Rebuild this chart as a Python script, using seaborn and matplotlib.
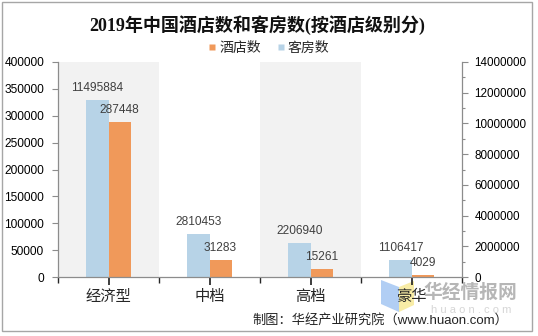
import matplotlib
matplotlib.use('Agg')
import matplotlib.pyplot as plt
import matplotlib.ticker as mticker
import seaborn as sns
import pandas as pd
from matplotlib.patches import Rectangle, Polygon
from matplotlib.lines import Line2D

# ---- data ----
categories = ['经济型', '中档', '高档', '豪华']
hotels = [287448, 31283, 15261, 4029]
rooms = [11495884, 2810453, 2206940, 1106417]
series_names = ['酒店数', '客房数']
left_ticks = [0, 50000, 100000, 150000, 200000, 250000, 300000, 350000, 400000]
right_ticks = [0, 2000000, 4000000, 6000000, 8000000, 10000000, 12000000, 14000000]
shaded = ['经济型', '高档']
title = '2019年中国酒店数和客房数(按酒店级别分)'
source = '制图：华经产业研究院（www.huaon.com）'

sns.set_theme(style='ticks')
plt.rcParams['font.family'] = ['Liberation Sans', 'Noto Sans CJK SC', 'DejaVu Sans']

W, H = 538, 336
fig = plt.figure(figsize=(W / 100, H / 100), dpi=100)
fig.patch.set_facecolor('white')

axr = fig.add_axes([58 / W, 1 - 277 / H, 404 / W, 215 / H])   # rooms (right axis), lower layer
ax = axr.twinx()                                              # hotels (left axis), upper layer
ax.yaxis.tick_left()
axr.yaxis.tick_right()
ax.set_zorder(axr.get_zorder() + 1)
ax.patch.set_visible(False)

palette = {'酒店数': '#f0995a', '客房数': '#b7d3e7'}
hue_order = ['客房数', '酒店数']

# each axis gets both hue levels so that seaborn dodges the bars side by side;
# the series that belongs to the other axis is a zero-height placeholder
df_r = pd.DataFrame({'级别': categories * 2,
                     '系列': [series_names[1]] * len(categories) + [series_names[0]] * len(categories),
                     '数量': rooms + [0] * len(categories)})
df_h = pd.DataFrame({'级别': categories * 2,
                     '系列': [series_names[1]] * len(categories) + [series_names[0]] * len(categories),
                     '数量': [0] * len(categories) + hotels})

# shaded bands
for c in shaded:
    i = categories.index(c)
    axr.axvspan(i - 0.5, i + 0.5, color='#f2f2f2', zorder=0, lw=0)

sns.barplot(data=df_r, x='级别', y='数量', hue='系列', hue_order=hue_order,
            order=categories, palette=palette, width=0.44, saturation=1,
            errorbar=None, legend=False, ax=axr, zorder=2, linewidth=0)
sns.barplot(data=df_h, x='级别', y='数量', hue='系列', hue_order=hue_order,
            order=categories, palette=palette, width=0.44, saturation=1,
            errorbar=None, legend=False, ax=ax, zorder=2, linewidth=0)

# containers follow hue_order: [客房数, 酒店数]
axr.bar_label(axr.containers[0], fmt='{:.0f}', padding=4.5, fontsize=8.6, color='#404040')
ax.bar_label(ax.containers[1], fmt='{:.0f}', padding=4.5, fontsize=8.6, color='#404040')

ax.set_xlim(-0.5, len(categories) - 0.5)
ax.set_ylim(0, left_ticks[-1])
axr.set_ylim(0, right_ticks[-1])
ax.set_yticks(left_ticks)
axr.set_yticks(right_ticks)
ax.yaxis.set_major_formatter(mticker.FuncFormatter(lambda v, p: f'{v:.0f}'))
axr.yaxis.set_major_formatter(mticker.FuncFormatter(lambda v, p: f'{v:.0f}'))
axr.yaxis.set_minor_locator(mticker.MultipleLocator(1000000))

ax.set_xticks(range(len(categories)))
ax.set_xticklabels(categories)
ax.xaxis.set_minor_locator(mticker.FixedLocator([i - 0.5 for i in range(len(categories) + 1)]))
for a in (ax, axr):
    a.set_xlabel('')
    a.set_ylabel('')

gray = '#8c8c8c'
ax.tick_params(axis='x', which='major', length=0, pad=7, labelsize=8.8, colors='#000000')
ax.tick_params(axis='x', which='minor', length=5, width=0.8, color=gray, bottom=True)
ax.tick_params(axis='y', which='major', length=4, width=0.8, color=gray, pad=6,
               labelsize=8.6, labelcolor='#000000', left=True, right=False)
axr.tick_params(axis='y', which='major', length=4, width=0.8, color=gray, pad=5,
                labelsize=8.4, labelcolor='#000000', right=True, left=False)
axr.tick_params(axis='y', which='minor', length=2.5, width=0.8, color=gray, right=True, left=False)

for s in ('top', 'right'):
    ax.spines[s].set_visible(False)
for s in ('top', 'left', 'bottom'):
    axr.spines[s].set_visible(False)
ax.spines['left'].set_color(gray)
ax.spines['bottom'].set_color(gray)
axr.spines['right'].set_color(gray)
for sp in (ax.spines['left'], ax.spines['bottom'], axr.spines['right']):
    sp.set_linewidth(0.9)

# title
fig.text(257 / W, 1 - 25 / H, title, ha='center', va='center', fontsize=13,
         fontweight='bold', family=['Liberation Serif', 'Noto Sans CJK SC'], color='#111111')

# legend
handles = [Line2D([], [], marker='s', linestyle='none', markersize=4.5,
                  markerfacecolor=palette[n], markeredgecolor='none', label=n)
           for n in series_names]
fig.legend(handles=handles, loc='center', bbox_to_anchor=(268 / W, 1 - 48 / H), ncol=2,
           frameon=False, fontsize=10, handletextpad=0.1, columnspacing=1.0,
           handlelength=0.8, borderpad=0)

# watermark (logo sits behind the axes so the category label stays on top)
fig.patches.append(Polygon([(381 / W, 1 - 280 / H), (399 / W, 1 - 287 / H),
                            (399 / W, 1 - 312 / H), (381 / W, 1 - 304 / H)],
                           closed=True, transform=fig.transFigure, facecolor='#a9c9f3',
                           edgecolor='none', alpha=0.9, zorder=-1))
fig.patches.append(Polygon([(399 / W, 1 - 287 / H), (414 / W, 1 - 281 / H),
                            (414 / W, 1 - 305 / H), (399 / W, 1 - 312 / H)],
                           closed=True, transform=fig.transFigure, facecolor='#f8ea9c',
                           edgecolor='none', alpha=0.9, zorder=-1))
fig.text(470 / W, 1 - 293 / H, '华经情报网', ha='center', va='center', fontsize=13.5,
         fontweight='bold', color='#a9a9a9', alpha=0.85)
fig.text(471 / W, 1 - 310 / H, 'h u a o n . c o m', ha='center', va='center', fontsize=8,
         color='#d6d6d6')

# source
fig.text(508 / W, 1 - 320 / H, source, ha='right', va='center', fontsize=9.5, color='#222222')

# outer frame
fig.patches.append(Rectangle((2 / W, 1 - 331 / H), 530 / W, 329 / H, transform=fig.transFigure,
                             fill=False, edgecolor='#a6a6a6', linewidth=1))

fig.savefig('out.png', dpi=100)
